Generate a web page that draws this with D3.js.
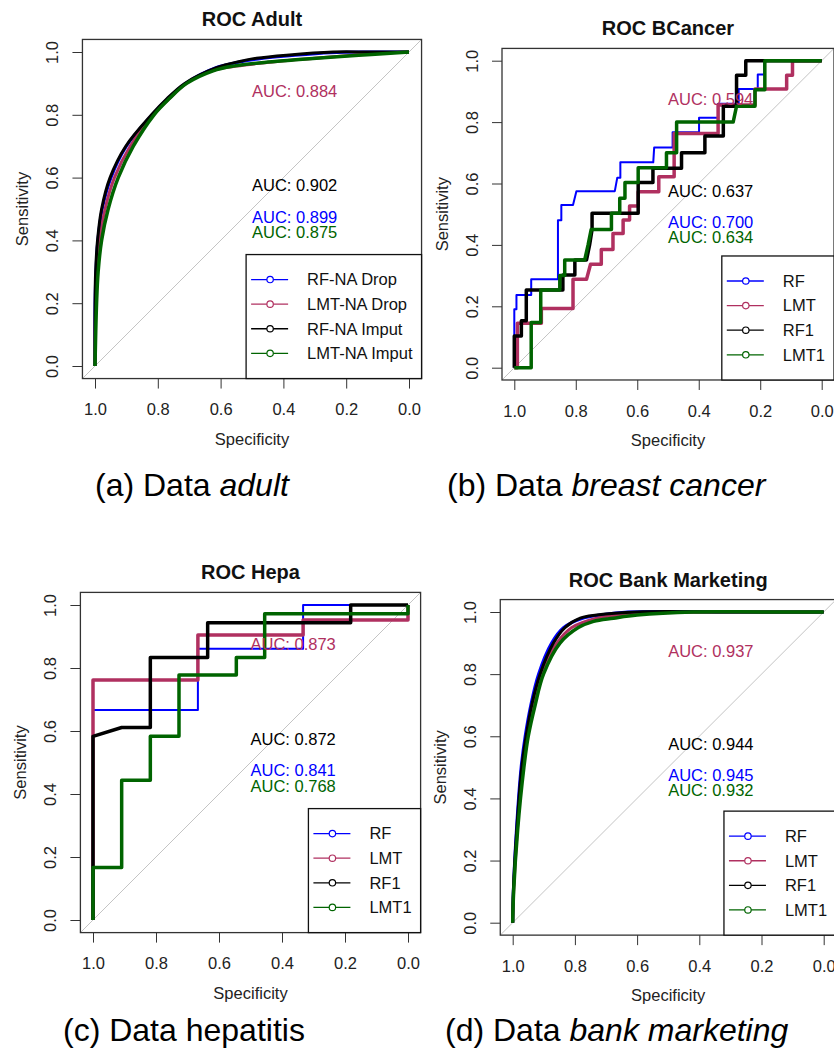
<!DOCTYPE html>
<html>
<head>
<meta charset="utf-8">
<script src="https://cdn.jsdelivr.net/npm/d3@7"></script>
<style>
    body { margin: 0; background: #fff; }
    svg { display: block; font-family: 'Liberation Sans', Arial, sans-serif; }
</style>
</head>
<body>
<svg id="chart" width="834" height="1048"></svg>
<script>
// tick labels, shared by all four panels
var xTicks = [1.0, 0.8, 0.6, 0.4, 0.2, 0.0];
var yTicks = [0.0, 0.2, 0.4, 0.6, 0.8, 1.0];

var modelNames = ['RF', 'LMT', 'RF1', 'LMT1'];
var adultNames = ['RF-NA Drop', 'LMT-NA Drop', 'RF-NA Imput', 'LMT-NA Imput'];
var colors = ['#0000ff', '#b03060', '#000000', '#006400'];

// AUC labels, same order as the model names
var adultAuc = ['0.899', '0.884', '0.902', '0.875'];
var bcancerAuc = ['0.700', '0.594', '0.637', '0.634'];
var hepaAuc = ['0.841', '0.873', '0.872', '0.768'];
var bankAuc = ['0.945', '0.937', '0.944', '0.932'];
// y position of each AUC label (in sensitivity units)
var aucY = [0.475, 0.875, 0.575, 0.425];

// curves as [specificity, sensitivity]
var adultRF = [[1, 0], [1, 0.18], [0.997, 0.3], [0.991, 0.4], [0.977, 0.5], [0.949, 0.6], [0.9, 0.7],
    [0.818, 0.8], [0.77, 0.85], [0.712, 0.9], [0.615, 0.95], [0.54, 0.968], [0.48, 0.978],
    [0.38, 0.988], [0.25, 0.998], [0.12, 1], [0, 1]];
var adultLMT = [[1, 0], [0.998, 0.2], [0.993, 0.3], [0.985, 0.4], [0.968, 0.5], [0.938, 0.6], [0.888, 0.7],
    [0.814, 0.8], [0.765, 0.85], [0.71, 0.9], [0.63, 0.94], [0.55, 0.955], [0.42, 0.97],
    [0.3, 0.98], [0.18, 0.99], [0.08, 0.997], [0, 1]];
var adultRF1 = [[1, 0], [1, 0.19], [0.998, 0.3], [0.992, 0.4], [0.979, 0.5], [0.952, 0.6], [0.902, 0.7],
    [0.82, 0.8], [0.772, 0.85], [0.714, 0.9], [0.613, 0.95], [0.539, 0.97], [0.486, 0.98],
    [0.39, 0.99], [0.242, 1], [0.12, 1], [0, 1]];
var adultLMT1 = [[1, 0], [0.995, 0.2], [0.99, 0.3], [0.979, 0.4], [0.958, 0.5], [0.926, 0.6], [0.878, 0.7],
    [0.812, 0.8], [0.765, 0.85], [0.708, 0.9], [0.624, 0.94], [0.56, 0.955], [0.45, 0.968],
    [0.35, 0.976], [0.24, 0.984], [0.12, 0.992], [0, 1]];

var bcancerRF = [[1, 0], [1, 0.19], [0.993, 0.19], [0.993, 0.237], [0.945, 0.237], [0.945, 0.288],
    [0.858, 0.288], [0.858, 0.48], [0.847, 0.48], [0.847, 0.53], [0.809, 0.53], [0.798, 0.575],
    [0.673, 0.575], [0.665, 0.619], [0.655, 0.619], [0.655, 0.669], [0.548, 0.669], [0.545, 0.717],
    [0.485, 0.717], [0.485, 0.767], [0.399, 0.767], [0.399, 0.814], [0.337, 0.814], [0.337, 0.86],
    [0.27, 0.86], [0.27, 0.908], [0.208, 0.908], [0.208, 0.955], [0.187, 0.955], [0.187, 1], [0, 1]];
var bcancerLMT = [[1, 0], [0.99, 0], [0.99, 0.145], [0.912, 0.145], [0.912, 0.193], [0.809, 0.193],
    [0.809, 0.288], [0.765, 0.288], [0.752, 0.337], [0.717, 0.337], [0.717, 0.385], [0.679, 0.385],
    [0.679, 0.437], [0.646, 0.437], [0.646, 0.481], [0.625, 0.481], [0.625, 0.527], [0.597, 0.527],
    [0.597, 0.573], [0.53, 0.573], [0.53, 0.622], [0.48, 0.622], [0.48, 0.763], [0.337, 0.763],
    [0.337, 0.856], [0.217, 0.856], [0.217, 0.908], [0.114, 0.908], [0.114, 0.953], [0.095, 0.953],
    [0.095, 1], [0, 1]];
var bcancerRF1 = [[1, 0], [1, 0.103], [0.977, 0.103], [0.977, 0.153], [0.961, 0.153], [0.961, 0.253],
    [0.842, 0.253], [0.842, 0.302], [0.803, 0.302], [0.803, 0.351], [0.765, 0.351], [0.755, 0.4],
    [0.747, 0.45], [0.747, 0.503], [0.597, 0.503], [0.597, 0.603], [0.549, 0.603], [0.549, 0.65],
    [0.456, 0.65], [0.456, 0.7], [0.38, 0.7], [0.38, 0.755], [0.32, 0.755], [0.32, 0.852],
    [0.277, 0.852], [0.277, 0.953], [0.247, 0.953], [0.247, 1], [0, 1]];
var bcancerLMT1 = [[1, 0], [0.945, 0], [0.945, 0.147], [0.914, 0.147], [0.914, 0.253], [0.852, 0.253],
    [0.852, 0.3], [0.836, 0.3], [0.836, 0.351], [0.771, 0.351], [0.76, 0.4], [0.75, 0.45],
    [0.684, 0.45], [0.684, 0.503], [0.657, 0.503], [0.657, 0.552], [0.64, 0.552], [0.64, 0.603],
    [0.597, 0.603], [0.597, 0.651], [0.505, 0.651], [0.505, 0.7], [0.472, 0.7], [0.472, 0.8],
    [0.288, 0.8], [0.277, 0.852], [0.217, 0.852], [0.217, 0.905], [0.185, 0.905], [0.185, 1], [0, 1]];

var hepaRF = [[1, 0], [1, 0.667], [0.667, 0.667], [0.667, 0.861], [0.333, 0.861], [0.333, 1], [0, 1]];
var hepaLMT = [[1, 0], [1, 0.762], [0.667, 0.762], [0.667, 0.905], [0.333, 0.905], [0.333, 0.952],
    [0, 0.952], [0, 1]];
var hepaRF1 = [[1, 0], [1, 0.583], [0.909, 0.611], [0.818, 0.611], [0.818, 0.833], [0.636, 0.833],
    [0.636, 0.944], [0.182, 0.944], [0.182, 1], [0, 1]];
var hepaLMT1 = [[1, 0], [1, 0.167], [0.909, 0.167], [0.909, 0.444], [0.818, 0.444], [0.818, 0.583],
    [0.727, 0.583], [0.727, 0.778], [0.545, 0.778], [0.545, 0.833], [0.455, 0.833], [0.455, 0.972],
    [0, 0.972], [0, 1]];

var bankRF = [[1, 0], [0.998, 0.1], [0.988, 0.3], [0.973, 0.5], [0.96, 0.6], [0.942, 0.7], [0.917, 0.8],
    [0.875, 0.9], [0.836, 0.95], [0.775, 0.98], [0.72, 0.99], [0.63, 1], [0.3, 1], [0, 1]];
var bankLMT = [[1, 0], [0.997, 0.1], [0.985, 0.3], [0.968, 0.5], [0.953, 0.6], [0.933, 0.7], [0.91, 0.8],
    [0.858, 0.9], [0.81, 0.95], [0.73, 0.98], [0.655, 0.99], [0.5, 0.998], [0.3, 1], [0, 1]];
var bankRF1 = [[1, 0], [0.998, 0.1], [0.987, 0.3], [0.971, 0.5], [0.957, 0.6], [0.939, 0.7], [0.912, 0.8],
    [0.869, 0.9], [0.832, 0.95], [0.783, 0.98], [0.73, 0.99], [0.6, 1], [0.3, 1], [0, 1]];
var bankLMT1 = [[1, 0], [0.997, 0.1], [0.984, 0.3], [0.964, 0.5], [0.95, 0.6], [0.928, 0.7], [0.901, 0.8],
    [0.848, 0.9], [0.789, 0.95], [0.74, 0.97], [0.676, 0.98], [0.6, 0.99], [0.42, 1], [0.2, 1], [0, 1]];

// x0/x1: pixel of specificity 1 and 0, y0/y1: pixel of sensitivity 0 and 1
var panels = [
    {
        title: 'ROC Adult', names: adultNames, auc: adultAuc, smooth: true,
        curves: [adultRF, adultLMT, adultRF1, adultLMT1], widths: [3, 3, 3, 3.5],
        x0: 95, x1: 409, y0: 366, y1: 52,
        caption: ['(a) Data ', 'adult'], capX: 95, capY: 496
    },
    {
        title: 'ROC BCancer', names: modelNames, auc: bcancerAuc, smooth: false,
        curves: [bcancerRF, bcancerLMT, bcancerRF1, bcancerLMT1], widths: [2, 3.5, 3.5, 3.5],
        x0: 514.3, x1: 821.7, y0: 367.7, y1: 60.7,
        caption: ['(b) Data ', 'breast cancer'], capX: 447, capY: 496
    },
    {
        title: 'ROC Hepa', names: modelNames, auc: hepaAuc, smooth: false,
        curves: [hepaRF, hepaLMT, hepaRF1, hepaLMT1], widths: [2, 3.5, 3.5, 3.5],
        x0: 93, x1: 408, y0: 920, y1: 605,
        caption: ['(c) Data hepatitis', ''], capX: 63, capY: 1041
    },
    {
        title: 'ROC Bank Marketing', names: modelNames, auc: bankAuc, smooth: true,
        curves: [bankRF, bankLMT, bankRF1, bankLMT1], widths: [3, 3, 3, 3.5],
        x0: 512.7, x1: 823.7, y0: 922.7, y1: 612,
        caption: ['(d) Data ', 'bank marketing'], capX: 445, capY: 1041
    }
];

var svg = d3.select('#chart');
svg.append('rect').attr('width', 834).attr('height', 1048).attr('fill', '#fff');

const drawPanel = p => {
    var x = d3.scaleLinear().domain([1, 0]).range([p.x0, p.x1]);
    var y = d3.scaleLinear().domain([0, 1]).range([p.y0, p.y1]);
    var g = svg.append('g');

    // R-style plot region: 4% padding around data range
    var left = x(1.04), right = x(-0.04), top = y(1.04), bottom = y(-0.04);

    // identity line
    g.append('line')
        .attr('x1', x(1.04)).attr('y1', y(-0.04))
        .attr('x2', x(-0.04)).attr('y2', y(1.04))
        .attr('stroke', '#c4c4c4')
        .attr('stroke-width', 1);

    var line = d3
        .line()
        .x(d => x(d[0]))
        .y(d => y(d[1]))
        .curve(p.smooth ? d3.curveCatmullRom.alpha(0.5) : d3.curveLinear);

    p.curves.forEach((c, i) => {
        g.append('path')
            .datum(c)
            .attr('fill', 'none')
            .attr('stroke', colors[i])
            .attr('stroke-width', p.widths[i])
            .attr('stroke-linejoin', 'round')
            .attr('d', line);
    });

    // AUC labels
    p.auc.forEach((a, i) => {
        g.append('text')
            .attr('x', x(0.5))
            .attr('y', y(aucY[i]))
            .attr('dy', '0.35em')
            .attr('font-size', 16.5)
            .attr('fill', colors[i])
            .text('AUC: ' + a);
    });

    // axes
    var xAxis = g.append('g')
        .attr('transform', 'translate(0,' + bottom + ')')
        .call(d3.axisBottom(x).tickValues(xTicks).tickFormat(d3.format('.1f'))
            .tickSize(10).tickPadding(15).tickSizeOuter(0));
    var yAxis = g.append('g')
        .attr('transform', 'translate(' + left + ',0)')
        .call(d3.axisLeft(y).tickValues(yTicks).tickFormat(d3.format('.1f'))
            .tickSize(10).tickSizeOuter(0));
    yAxis.selectAll('text')
        .attr('x', 0)
        .attr('y', -30)
        .attr('dy', '0.35em')
        .attr('text-anchor', 'middle')
        .attr('transform', 'rotate(-90)');
    [xAxis, yAxis].forEach(a => {
        a.selectAll('.domain').remove();
        a.selectAll('line').attr('stroke', '#333');
        a.selectAll('text')
            .attr('font-size', 16.5)
            .attr('font-family', "'Liberation Sans', Arial, sans-serif")
            .attr('fill', '#222');
    });

    // box
    g.append('rect')
        .attr('x', left).attr('y', top)
        .attr('width', right - left).attr('height', bottom - top)
        .attr('fill', 'none')
        .attr('stroke', '#333')
        .attr('stroke-width', 1.3);

    g.append('text')
        .attr('x', (left + right) / 2)
        .attr('y', top - 20)
        .attr('dy', '0.35em')
        .attr('text-anchor', 'middle')
        .attr('font-size', 20)
        .attr('font-weight', 'bold')
        .attr('fill', '#111')
        .text(p.title);

    g.append('text')
        .attr('x', (left + right) / 2)
        .attr('y', bottom + 66)
        .attr('text-anchor', 'middle')
        .attr('font-size', 16.5)
        .attr('fill', '#222')
        .text('Specificity');

    g.append('text')
        .attr('transform', 'translate(' + (left - 60) + ',' + (top + bottom) / 2 + ') rotate(-90)')
        .attr('dy', '0.35em')
        .attr('text-anchor', 'middle')
        .attr('font-size', 16.5)
        .attr('fill', '#222')
        .text('Sensitivity');

    // legend, bottom right of the plot region
    var leg = g.append('g');
    var labels = leg.selectAll('text')
        .data(p.names)
        .enter()
        .append('text')
        .attr('font-size', 16.5)
        .attr('fill', '#111')
        .attr('dy', '0.35em')
        .text(d => d);
    var maxW = d3.max(labels.nodes(), n => n.getComputedTextLength());
    var legW = 61 + maxW + 9;
    var legH = 124;
    var lx = right - legW, ly = bottom - legH;
    leg.insert('rect', 'text')
        .attr('x', lx).attr('y', ly)
        .attr('width', legW).attr('height', legH)
        .attr('fill', '#fff')
        .attr('stroke', '#111')
        .attr('stroke-width', 1.3);
    labels.attr('x', lx + 61).attr('y', (d, i) => ly + 25 + i * 24.6);
    p.names.forEach((n, i) => {
        var ry = ly + 25 + i * 24.6;
        leg.append('line')
            .attr('x1', lx + 5).attr('x2', lx + 42)
            .attr('y1', ry).attr('y2', ry)
            .attr('stroke', colors[i])
            .attr('stroke-width', 1.3);
        leg.append('circle')
            .attr('cx', lx + 24).attr('cy', ry).attr('r', 3.2)
            .attr('fill', '#fff')
            .attr('stroke', colors[i])
            .attr('stroke-width', 1.2);
    });

    // caption under the panel
    var cap = svg.append('text')
        .attr('x', p.capX)
        .attr('y', p.capY)
        .attr('font-size', 32)
        .attr('fill', '#000');
    cap.append('tspan').text(p.caption[0]);
    if (p.caption[1]) {
        cap.append('tspan').attr('font-style', 'italic').text(p.caption[1]);
    }
};

panels.forEach(drawPanel);
</script>
</body>
</html>
